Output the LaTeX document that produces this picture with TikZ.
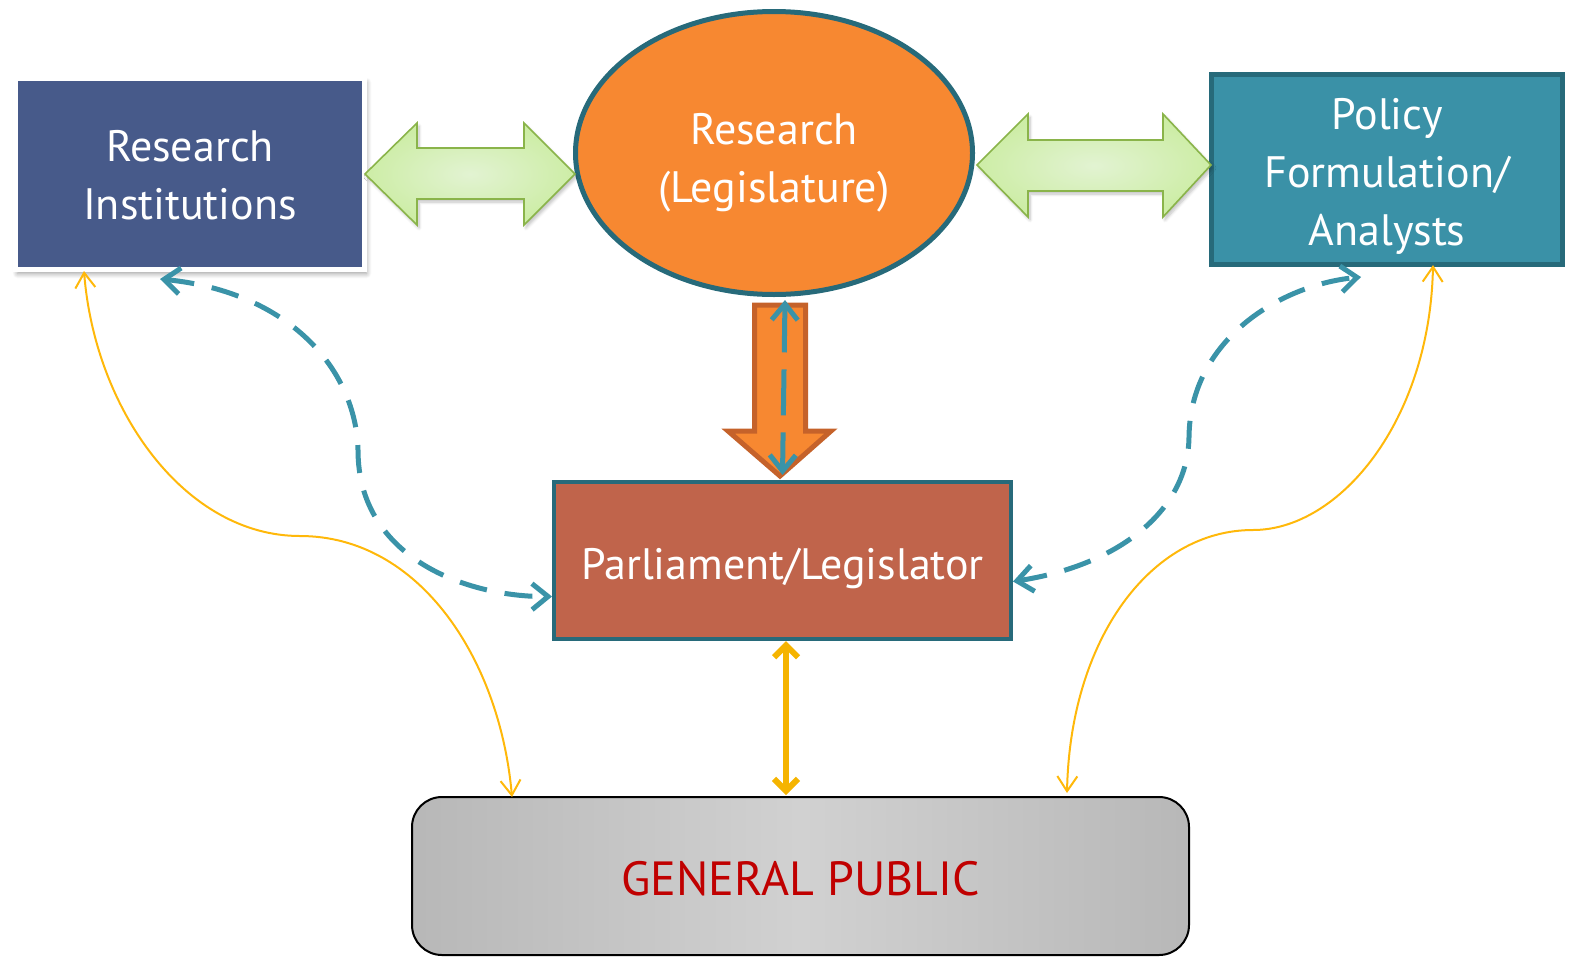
\documentclass[tikz,border=0pt]{standalone}
\usepackage{fontspec}
\setmainfont{PT Sans}
\usetikzlibrary{shapes.geometric,arrows.meta,shadows,shadows.blur,calc}
\definecolor{riblue}{HTML}{475A8A}
\definecolor{tealfill}{HTML}{3A91A7}
\definecolor{tealdk}{HTML}{276A7A}
\definecolor{orng}{HTML}{F78831}
\definecolor{orngdk}{HTML}{C5622A}
\definecolor{brick}{HTML}{C0644B}
\definecolor{yell}{HTML}{F5B400}
\definecolor{yellthin}{HTML}{FFB80A}
\definecolor{grnline}{HTML}{8AB44A}
\definecolor{grnin}{HTML}{E2F3D2}
\definecolor{grnout}{HTML}{CDEDA6}
\definecolor{gpred}{HTML}{C00000}
\definecolor{dashteal}{HTML}{3A93A8}
\begin{document}
\begin{tikzpicture}[x=1pt,y=-1pt,
  lbl/.style={text=white, align=center, font=\fontsize{44}{58}\selectfont, inner sep=0pt},
  boxnode/.style={rectangle, lbl},
  greenarrow/.style={draw=grnline, line width=1.6pt, inner color=grnin, outer color=grnout,
     line join=miter, blur shadow={shadow blur steps=6, shadow opacity=25, shadow xshift=2pt, shadow yshift=-3pt, shadow blur radius=3pt}},
  dashlink/.style={draw=dashteal, line width=5pt, dash pattern=on 28pt off 18pt,
     {Straight Barb[length=16pt,width=26pt,line width=5pt]}-{Straight Barb[length=16pt,width=26pt,line width=5pt]}},
  yellthinlink/.style={draw=yellthin, line width=2pt,
     {Straight Barb[length=15pt,width=20pt,line width=2pt]}-{Straight Barb[length=15pt,width=20pt,line width=2pt]}},
]
\useasboundingbox (0,0) rectangle (1571,956);

% main nodes
\node[boxnode, fill=riblue, draw=white, line width=5pt, minimum width=349pt, minimum height=191pt, text height=91pt,
      blur shadow={shadow blur steps=8, shadow opacity=40, shadow xshift=2pt, shadow yshift=-4pt, shadow blur radius=5pt}] (ri) at (190,174) {Research\\Institutions};
\node[ellipse, lbl, fill=orng, draw=tealdk, line width=5pt, minimum width=397pt, minimum height=283pt, text height=109pt] (rl) at (774,153) {Research\\(Legislature)};
\node[boxnode, fill=tealfill, draw=tealdk, line width=5pt, minimum width=351pt, minimum height=190pt, text height=161pt] (pol) at (1387,169.5) {Policy\\Formulation/\\Analysts};
\node[boxnode, fill=brick, draw=tealdk, line width=4pt, minimum width=457pt, minimum height=157pt, text height=47pt] (parl) at (782.5,560.5) {Parliament/Legislator};
\node[rectangle, rounded corners=30pt, draw=black, line width=2pt, left color=black!28, right color=black!28, middle color=black!18,
      minimum width=777pt, minimum height=158pt, text=gpred, font=\fontsize{48}{58}\selectfont, inner sep=0pt, text height=40pt] (gp) at (800.5,876) {GENERAL PUBLIC};

% green double arrows
\path[greenarrow] (365,174) -- (417,123) -- (417,148) -- (524,148) -- (524,123) -- (575,174)
   -- (524,225) -- (524,199) -- (417,199) -- (417,225) -- cycle;
\path[greenarrow] (977,165) -- (1028,114) -- (1028,140) -- (1163,140) -- (1163,114) -- (1211,165)
   -- (1163,217) -- (1163,191) -- (1028,191) -- (1028,217) -- cycle;

% orange block arrow
\path[fill=orng, draw=orngdk, line width=5pt, line join=miter]
  (754.5,305) -- (805.5,305) -- (805.5,431) -- (831,431) -- (780,476) -- (728,431) -- (754.5,431) -- cycle;

% connector end points
\coordinate (riA) at ($(ri.south west)+(147,7)$);
\coordinate (riB) at ($(ri.south west)+(71,-1)$);
\coordinate (polA) at ($(pol.south west)+(152,10)$);
\coordinate (polB) at ($(pol.south west)+(224,-2)$);
\coordinate (parlW) at ($(parl.west)+(0,36)$);
\coordinate (parlE) at ($(parl.east)+(0,21)$);
\coordinate (rlS) at ($(rl.south)+(11,3)$);
\coordinate (parlN) at ($(parl.north)+(0,-5)$);
\coordinate (parlS) at ($(parl.south)+(3.5,0)$);
\coordinate (gpN) at ($(gp.north)+(-14.5,-1)$);
\coordinate (gpNW) at ($(gp.north west)+(101,1)$);
\coordinate (gpNE) at ($(gp.north east)+(-123,-3)$);

% teal dashed curves
\draw[dashlink] (riA) .. controls (290,292) and (356,370) .. (358,450)
   .. controls (358,560) and (470,597) .. (parlW);
\draw[dashlink] (parlE) .. controls (1120,565) and (1188,510) .. (1189,437)
   .. controls (1190,340) and (1280,285) .. (polA);
\draw[dashlink, dash pattern=on 46pt off 17pt] (rlS) -- (parlN);

% thin yellow curves
\draw[yellthinlink] (riB) .. controls (95,410) and (185,536) .. (300,536)
   .. controls (420,536) and (500,660) .. (gpNW);
\draw[yellthinlink] (polB) .. controls (1430,420) and (1340,530) .. (1253,530)
   .. controls (1150,530) and (1070,640) .. (gpNE);

% thick yellow arrow
\draw[draw=yell, line width=6pt,
  {Straight Barb[length=12pt,width=24pt,line width=6pt]}-{Straight Barb[length=12pt,width=24pt,line width=6pt]}]
  (parlS) -- (gpN);
\end{tikzpicture}
\end{document}
